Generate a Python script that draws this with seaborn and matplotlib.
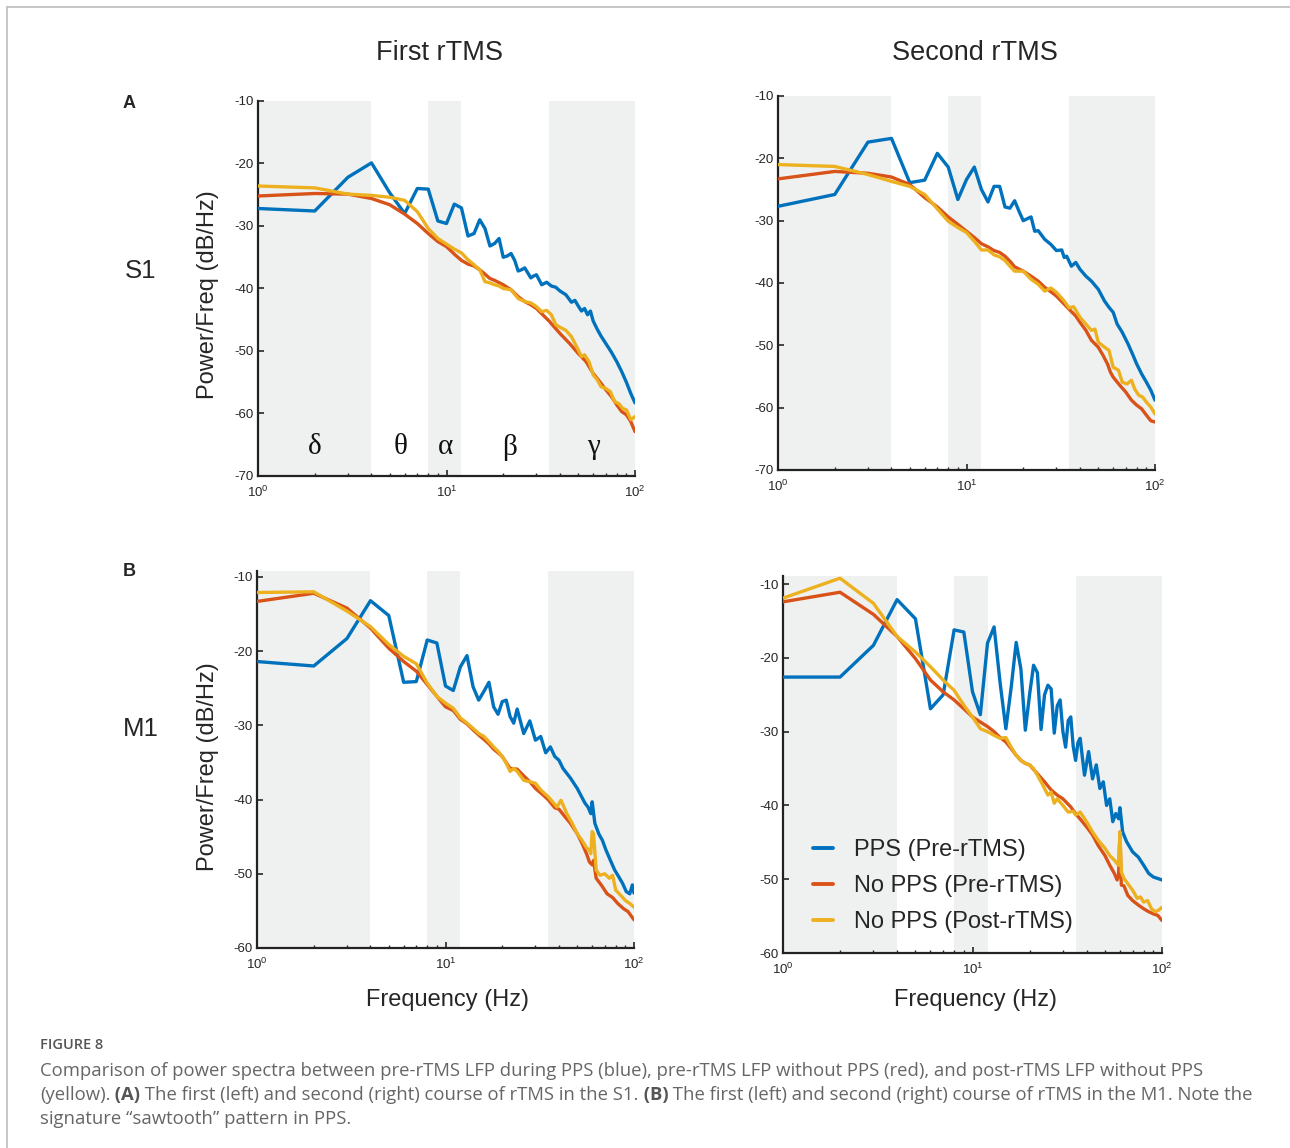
import matplotlib
matplotlib.use("Agg")
import numpy as np
import pandas as pd
import seaborn as sns
import matplotlib.pyplot as plt
from matplotlib.lines import Line2D
from matplotlib.ticker import FixedLocator, FixedFormatter, LogLocator, NullFormatter

# ---------------- data ----------------
conditions = ["PPS (Pre-rTMS)", "No PPS (Pre-rTMS)", "No PPS (Post-rTMS)"]
colors = ["#0072BD", "#D95319", "#EDB120"]

# S1, first rTMS
a1_blue_f = [1,2,3,4,5,6,7,8,9,10,11,12,13,14,15,16,17,18,19,20,21,22,23,24,25,26,27,28,29,30,32,34,36,38,40,43,46,48,50,52,54,56,58,60,63,66,70,75,80,85,90,95,100]
a1_blue = [-27.2,-27.6,-22.2,-19.9,-24.7,-28.0,-24.0,-24.1,-29.2,-29.6,-26.5,-27.1,-31.6,-31.2,-29.0,-30.4,-33.2,-32.8,-32.0,-35.0,-34.8,-34.4,-35.5,-37.2,-37.0,-36.7,-37.5,-38.3,-38.0,-37.8,-39.4,-39.0,-39.6,-39.8,-40.4,-41.0,-42.2,-41.9,-42.8,-43.6,-43.2,-44.2,-43.6,-45.2,-46.5,-47.6,-48.8,-50.2,-51.7,-53.3,-55.0,-56.8,-58.3]
a1_red_f = [1,2,3,4,5,6,7,8,9,10,11,12,13,14,15,16,17,18,20,22,24,26,28,30,35,40,45,50,55,60,65,70,75,80,85,90,95,100]
a1_red = [-25.2,-24.8,-24.9,-25.6,-26.6,-28.1,-29.6,-31.2,-32.5,-33.3,-34.5,-35.5,-36.1,-36.4,-37.0,-37.7,-38.4,-38.7,-39.4,-40.2,-41.3,-42.1,-42.6,-43.2,-45.2,-47.2,-48.8,-50.4,-51.7,-53.6,-54.9,-56.2,-57.3,-58.6,-59.7,-60.2,-61.3,-62.9]
a1_yel_f = [1,2,3,4,5,6,7,8,9,10,11,12,13,14,15,16,17,18,19,20,22,24,26,28,30,32,34,36,38,40,43,46,49,52,54,57,60,63,66,70,74,78,82,86,90,95,100]
a1_yel = [-23.6,-23.9,-24.9,-25.1,-25.4,-25.9,-27.7,-30.4,-32.0,-32.9,-33.7,-34.3,-35.4,-36.2,-37.0,-38.9,-39.1,-39.4,-39.6,-40.0,-40.2,-41.6,-42.1,-42.3,-42.9,-43.7,-43.5,-44.2,-45.8,-46.2,-46.7,-47.7,-49.3,-50.9,-50.6,-51.7,-53.8,-54.6,-55.7,-56.0,-56.5,-58.1,-58.4,-59.2,-59.4,-61.0,-60.5]

# S1, second rTMS
a2_blue_f = [1,2,3,4,5,6,7,8,9,10,11,12,13,14,15,16,17,18,19,20,22,23,24,26,28,30,32,33,34,36,38,40,43,46,50,54,57,60,63,67,72,76,80,85,90,95,100]
a2_blue = [-27.7,-25.8,-17.4,-16.8,-23.9,-23.5,-19.2,-21.4,-26.6,-23.4,-21.4,-25.0,-27.0,-24.5,-24.5,-27.8,-28.0,-26.8,-28.5,-30.0,-29.4,-31.7,-31.6,-33.0,-33.8,-34.8,-34.7,-35.9,-35.7,-37.3,-36.7,-37.8,-38.9,-39.7,-41.0,-42.9,-43.9,-44.7,-46.6,-47.9,-49.8,-51.4,-53.0,-54.6,-55.9,-57.2,-58.8]
a2_red_f = [1,2,3,4,5,6,7,8,9,10,11,12,13,14,15,16,17,18,20,22,24,26,28,30,33,35,38,40,43,46,50,53,56,58,60,65,70,75,80,85,90,95,100]
a2_red = [-23.3,-22.1,-22.4,-23.0,-24.2,-26.3,-27.8,-29.4,-30.6,-31.7,-32.7,-33.7,-34.2,-34.8,-35.1,-35.7,-36.5,-37.4,-38.1,-38.9,-39.7,-40.7,-41.4,-42.1,-43.4,-44.2,-45.3,-46.3,-47.6,-49.2,-50.3,-51.6,-53.0,-54.3,-55.1,-56.4,-57.5,-58.8,-59.6,-60.2,-61.2,-62.1,-62.3]
a2_yel_f = [1,2,3,4,5,6,7,8,9,10,11,12,13,14,15,16,17,18,20,22,24,26,28,30,33,35,37,40,43,46,48,50,54,57,60,64,67,71,75,78,82,86,90,95,100]
a2_yel = [-21.0,-21.3,-22.6,-23.7,-24.5,-25.8,-28.1,-30.1,-31.1,-31.9,-33.3,-34.7,-34.7,-35.5,-35.8,-36.4,-37.3,-38.1,-38.1,-39.4,-40.2,-41.3,-40.8,-41.5,-42.9,-44.0,-43.8,-45.5,-46.6,-47.6,-47.4,-49.5,-50.3,-50.8,-53.5,-54.0,-55.9,-56.2,-55.6,-57.0,-58.0,-58.3,-59.1,-59.9,-61.0]

# M1, first rTMS
b1_blue_f = [1,2,3,4,5,6,7,8,9,10,11,12,13,14,15,16,17,18,19,20,21,22,23,24,26,28,30,32,34,36,38,40,42,46,50,55,57,59,60,62,65,68,71,75,79,83,87,91,95,98,100]
b1_blue = [-21.4,-22.0,-18.3,-13.2,-15.2,-24.2,-24.1,-18.5,-18.9,-24.7,-25.3,-22.1,-20.6,-24.8,-26.6,-25.4,-24.2,-27.5,-28.5,-26.8,-26.6,-28.8,-29.7,-27.8,-31.1,-29.4,-32.0,-31.5,-33.7,-32.9,-34.2,-34.7,-35.8,-37.1,-38.5,-40.5,-41.0,-41.9,-40.3,-43.2,-44.6,-45.5,-46.8,-48.2,-49.5,-50.4,-51.3,-52.4,-52.7,-51.5,-52.6]
b1_red_f = [1,2,3,4,5,6,7,8,9,10,11,12,13,14,15,16,17,18,19,20,22,24,26,28,30,33,35,38,40,43,46,50,53,56,58,60,61,63,67,72,77,82,88,93,100]
b1_red = [-13.3,-12.2,-14.2,-16.9,-19.6,-21.4,-22.7,-24.5,-26.1,-27.5,-28.0,-29.2,-29.8,-30.6,-31.3,-31.9,-32.5,-33.2,-33.7,-34.2,-35.8,-35.9,-36.8,-37.6,-38.5,-39.4,-40.0,-41.1,-41.3,-42.3,-43.2,-44.6,-45.9,-47.3,-48.4,-48.8,-48.2,-50.6,-51.5,-52.7,-53.2,-54.0,-54.7,-55.1,-56.2]
b1_yel_f = [1,2,3,4,5,6,7,8,9,10,11,12,13,14,15,16,17,18,19,20,21,22,23,24,26,28,30,32,35,37,39,41,44,47,50,53,56,58,59,60,61,63,66,70,74,77,80,85,90,95,100]
b1_yel = [-12.1,-12.0,-14.6,-16.7,-19.1,-20.7,-21.7,-24.3,-26.1,-27.0,-27.7,-29.0,-29.7,-30.4,-31.1,-31.5,-32.2,-32.9,-33.5,-34.2,-35.1,-36.2,-35.8,-36.2,-37.4,-37.6,-37.8,-38.7,-39.6,-40.3,-41.0,-40.1,-41.9,-43.2,-44.6,-45.5,-46.5,-46.8,-47.3,-44.3,-44.6,-49.5,-50.2,-50.0,-50.6,-50.2,-52.2,-52.9,-53.6,-54.0,-54.5]

# M1, second rTMS
b2_blue_f = [1,2,3,4,5,6,7,8,9,10,11,12,13,14,15,16,17,18,19,20,21,22,23,24,25,26,27,28,29,30,31,32,33,34,35,36,37,38,39,41,43,45,47,49,51,53,55,57,59,60,62,65,70,75,80,85,90,95,100]
b2_blue = [-22.6,-22.6,-18.3,-12.1,-14.7,-26.9,-25.0,-16.2,-16.5,-24.6,-27.7,-18.0,-15.8,-23.5,-29.6,-24.0,-17.9,-21.5,-29.8,-25.0,-21.0,-22.0,-29.7,-25.0,-23.7,-24.2,-30.2,-26.5,-25.7,-30.0,-32.1,-28.5,-28.0,-32.0,-33.9,-31.5,-30.9,-33.5,-35.9,-32.7,-36.4,-34.5,-37.7,-36.8,-40.0,-39.1,-42.2,-41.1,-41.8,-40.3,-43.6,-44.9,-46.3,-47.0,-48.1,-49.2,-49.7,-49.9,-50.1]
b2_red_f = [1,2,3,4,5,6,7,8,9,10,11,12,13,14,15,16,17,18,19,20,22,24,26,28,30,33,35,38,40,43,46,50,53,56,58,59,60,61,63,66,70,75,80,85,90,95,100]
b2_red = [-12.4,-11.1,-14.1,-17.1,-20.1,-23.0,-24.6,-25.7,-26.9,-28.0,-28.7,-29.3,-30.0,-30.8,-31.4,-32.3,-33.2,-33.9,-34.3,-34.5,-35.7,-36.8,-37.9,-38.6,-39.1,-40.2,-41.1,-42.2,-42.9,-44.0,-45.4,-46.8,-48.1,-49.2,-50.1,-49.5,-43.6,-50.8,-50.9,-52.2,-52.9,-53.5,-54.0,-54.4,-54.7,-54.9,-55.6]
b2_yel_f = [1,2,3,4,5,6,7,8,9,10,11,12,13,14,15,16,17,18,19,20,21,22,23,24,25,26,27,28,30,32,34,35,37,40,43,46,50,53,56,58,59,60,61,63,66,70,74,77,80,84,88,92,96,100]
b2_yel = [-11.9,-9.2,-12.6,-17.1,-19.2,-21.2,-23.0,-24.4,-26.4,-28.0,-29.6,-30.0,-30.5,-30.9,-30.8,-32.1,-33.2,-33.9,-34.3,-34.5,-35.0,-35.9,-36.8,-37.7,-38.6,-38.2,-39.7,-39.1,-40.0,-40.9,-40.8,-41.3,-40.9,-42.2,-43.6,-44.7,-45.8,-46.8,-47.4,-47.9,-48.1,-43.6,-49.0,-49.9,-50.6,-51.5,-52.6,-52.4,-53.1,-52.9,-54.0,-54.4,-54.2,-53.8]

bands = [(1, 4), (8, 12), (35, 100)]
band_names = ["δ", "θ", "α", "β", "γ"]
band_label_f = [2.0, 5.7, 9.9, 21.5, 60.0]
a_yticks = [-70, -60, -50, -40, -30, -20, -10]
b_yticks = [-60, -50, -40, -30, -20, -10]
xticks = [1, 10, 100]
xticklabels = ["$10^{0}$", "$10^{1}$", "$10^{2}$"]

# ---------------- style ----------------
sns.set_style("ticks")
plt.rcParams["font.family"] = ["Liberation Sans", "DejaVu Sans"]
plt.rcParams["mathtext.fontset"] = "custom"
plt.rcParams["mathtext.rm"] = "Liberation Sans"
plt.rcParams["mathtext.it"] = "Liberation Sans"
plt.rcParams["mathtext.default"] = "regular"
plt.rcParams["axes.unicode_minus"] = False

W, H = 1290, 1148
fig = plt.figure(figsize=(W / 100, H / 100), dpi=100)
fig.patch.set_facecolor("white")


def fx(px):
    return px / W


def fy(py):
    return 1 - py / H


def make_ax(left, right, top, bottom):
    return fig.add_axes([fx(left), fy(bottom), fx(right) - fx(left), (bottom - top) / H])


panels = [
    dict(box=(258, 635, 101, 476), ylim=(-70, -10), yt=a_yticks,
         data=[(a1_blue_f, a1_blue), (a1_red_f, a1_red), (a1_yel_f, a1_yel)], greek=True),
    dict(box=(778, 1155, 96, 470), ylim=(-70, -10), yt=a_yticks,
         data=[(a2_blue_f, a2_blue), (a2_red_f, a2_red), (a2_yel_f, a2_yel)], greek=False),
    dict(box=(257, 634, 571, 948), ylim=(-60, -9.2), yt=b_yticks,
         data=[(b1_blue_f, b1_blue), (b1_red_f, b1_red), (b1_yel_f, b1_yel)], greek=False),
    dict(box=(783, 1162, 576, 953), ylim=(-60, -8.9), yt=b_yticks,
         data=[(b2_blue_f, b2_blue), (b2_red_f, b2_red), (b2_yel_f, b2_yel)], greek=False),
]

axes = []
for p in panels:
    ax = make_ax(*p["box"])
    axes.append(ax)
    ax.set_xscale("log")
    for lo, hi in bands:
        ax.axvspan(lo, hi, color="#eff1f0", lw=0, zorder=0)
    frames = []
    for cond, (f, v) in zip(conditions, p["data"]):
        frames.append(pd.DataFrame({"freq": f, "power": v, "condition": cond}))
    df = pd.concat(frames, ignore_index=True)
    sns.lineplot(data=df, x="freq", y="power", hue="condition", hue_order=conditions,
                 palette=colors, estimator=None, sort=False, legend=False,
                 linewidth=2.4, ax=ax, zorder=3)
    ax.set_xlim(1, 100)
    ax.set_ylim(*p["ylim"])
    ax.set_xlabel("")
    ax.set_ylabel("")
    ax.xaxis.set_major_locator(FixedLocator(xticks))
    ax.xaxis.set_major_formatter(FixedFormatter(xticklabels))
    ax.xaxis.set_minor_locator(LogLocator(base=10, subs=np.arange(2, 10)))
    ax.xaxis.set_minor_formatter(NullFormatter())
    ax.yaxis.set_major_locator(FixedLocator(p["yt"]))
    ax.yaxis.set_major_formatter(FixedFormatter([str(t) for t in p["yt"]]))
    ax.tick_params(which="major", direction="in", length=4, width=1.2,
                   labelsize=9.5, colors="#262626")
    ax.tick_params(axis="x", which="major", pad=6)
    ax.tick_params(axis="y", which="major", pad=3)
    ax.tick_params(which="minor", direction="in", length=2.5, width=1.0, colors="#262626")
    ax.tick_params(axis="y", which="minor", left=False)
    for s in ["top", "right"]:
        ax.spines[s].set_visible(False)
    for s in ["left", "bottom"]:
        ax.spines[s].set_linewidth(1.6)
        ax.spines[s].set_color("#222222")
    ax.set_facecolor("white")
    if p["greek"]:
        for name, f in zip(band_names, band_label_f):
            ax.text(f, -65.4, name, ha="center", va="center", fontsize=21,
                    family=["Liberation Serif", "DejaVu Serif"], color="#111111")

# legend on M1 second
handles = [Line2D([0], [0], color=c, lw=2.8) for c in colors]
fig.legend(handles, conditions, loc="upper left", bbox_to_anchor=(fx(813), fy(839)),
           frameon=False, fontsize=17, handlelength=0.85, handletextpad=0.9,
           labelspacing=0.6, borderpad=0, borderaxespad=0)

# titles / labels
fig.text(fx(440), fy(53), "First rTMS", ha="center", va="center", fontsize=19.5)
fig.text(fx(975), fy(53), "Second rTMS", ha="center", va="center", fontsize=19.5)
fig.text(fx(141), fy(271), "S1", ha="center", va="center", fontsize=18.5)
fig.text(fx(141), fy(729), "M1", ha="center", va="center", fontsize=18.5)
fig.text(fx(129), fy(103), "A", ha="center", va="center", fontsize=13, weight="bold")
fig.text(fx(129), fy(572), "B", ha="center", va="center", fontsize=13, weight="bold")
fig.text(fx(208), fy(295), "Power/Freq (dB/Hz)", ha="center", va="center", fontsize=17, rotation=90)
fig.text(fx(208), fy(767), "Power/Freq (dB/Hz)", ha="center", va="center", fontsize=17, rotation=90)
fig.text(fx(447), fy(1000), "Frequency (Hz)", ha="center", va="center", fontsize=17)
fig.text(fx(976), fy(1000), "Frequency (Hz)", ha="center", va="center", fontsize=17)

# frame lines
fig.add_artist(Line2D([fx(7), 1], [fy(7), fy(7)], transform=fig.transFigure, color="#bdbdbd", lw=1.2))
fig.add_artist(Line2D([fx(7), fx(7)], [fy(7), 0], transform=fig.transFigure, color="#bdbdbd", lw=1.2))

# caption
cap_font = ["Open Sans", "DejaVu Sans"]
cap_color = "#666666"
fig.text(fx(40), fy(1045), "FIGURE 8", ha="left", va="center", fontsize=10.5,
         family=cap_font, color="#555555", weight="semibold")

renderer = fig.canvas.get_renderer()


def rich_line(x_px, y_px, parts, size=13.3):
    x = fx(x_px)
    for txt, weight in parts:
        t = fig.text(x, fy(y_px), txt, ha="left", va="center", fontsize=size,
                     family=cap_font, color=cap_color if weight == "normal" else "#555555",
                     weight=weight)
        bb = t.get_window_extent(renderer=renderer)
        x = bb.x1 / fig.bbox.width


rich_line(40, 1071, [("Comparison of power spectra between pre-rTMS LFP during PPS (blue), pre-rTMS LFP without PPS (red), and post-rTMS LFP without PPS", "normal")])
rich_line(40, 1095, [("(yellow).", "normal"), (" (A)", "bold"),
                     (" The first (left) and second (right) course of rTMS in the S1.", "normal"),
                     (" (B)", "bold"),
                     (" The first (left) and second (right) course of rTMS in the M1. Note the", "normal")])
rich_line(40, 1119, [("signature \u201csawtooth\u201d pattern in PPS.", "normal")])

fig.savefig("out.png", dpi=100, facecolor="white")
